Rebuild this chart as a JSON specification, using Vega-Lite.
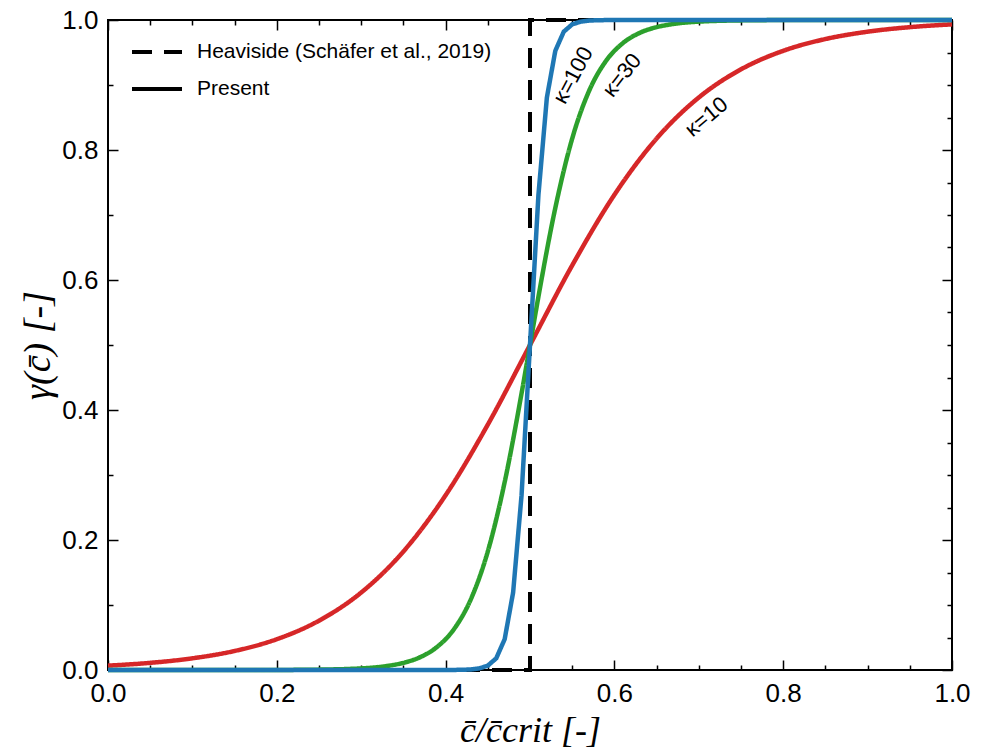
{
  "$schema": "https://vega.github.io/schema/vega-lite/v6.json",
  "width": 844,
  "height": 650,
  "autosize": "none",
  "padding": {"left": 108, "top": 20, "right": 34, "bottom": 82},
  "background": "white",
  "config": {
    "view": {"stroke": "black", "strokeWidth": 2},
    "font": "Liberation Sans"
  },
  "datasets": {
    "heav": [
      {"x": 0, "y": 0, "i": 0, "type": "Heaviside (Schäfer et al., 2019)"},
      {"x": 0.5, "y": 0, "i": 1, "type": "Heaviside (Schäfer et al., 2019)"},
      {"x": 0.5, "y": 1, "i": 2, "type": "Heaviside (Schäfer et al., 2019)"},
      {"x": 1, "y": 1, "i": 3, "type": "Heaviside (Schäfer et al., 2019)"}
    ],
    "smooth": [
      {"x": 0.0, "y": 0.0067, "kappa": "10", "type": "Present"},
      {"x": 0.05, "y": 0.011, "kappa": "10", "type": "Present"},
      {"x": 0.1, "y": 0.018, "kappa": "10", "type": "Present"},
      {"x": 0.15, "y": 0.0293, "kappa": "10", "type": "Present"},
      {"x": 0.2, "y": 0.0474, "kappa": "10", "type": "Present"},
      {"x": 0.25, "y": 0.0759, "kappa": "10", "type": "Present"},
      {"x": 0.3, "y": 0.1192, "kappa": "10", "type": "Present"},
      {"x": 0.35, "y": 0.1824, "kappa": "10", "type": "Present"},
      {"x": 0.4, "y": 0.2689, "kappa": "10", "type": "Present"},
      {"x": 0.45, "y": 0.3775, "kappa": "10", "type": "Present"},
      {"x": 0.5, "y": 0.5, "kappa": "10", "type": "Present"},
      {"x": 0.55, "y": 0.6225, "kappa": "10", "type": "Present"},
      {"x": 0.6, "y": 0.7311, "kappa": "10", "type": "Present"},
      {"x": 0.65, "y": 0.8176, "kappa": "10", "type": "Present"},
      {"x": 0.7, "y": 0.8808, "kappa": "10", "type": "Present"},
      {"x": 0.75, "y": 0.9241, "kappa": "10", "type": "Present"},
      {"x": 0.8, "y": 0.9526, "kappa": "10", "type": "Present"},
      {"x": 0.85, "y": 0.9707, "kappa": "10", "type": "Present"},
      {"x": 0.9, "y": 0.982, "kappa": "10", "type": "Present"},
      {"x": 0.95, "y": 0.989, "kappa": "10", "type": "Present"},
      {"x": 1.0, "y": 0.9933, "kappa": "10", "type": "Present"},
      {"x": 0.0, "y": 0.0, "kappa": "30", "type": "Present"},
      {"x": 0.1, "y": 0.0, "kappa": "30", "type": "Present"},
      {"x": 0.2, "y": 0.0001, "kappa": "30", "type": "Present"},
      {"x": 0.25, "y": 0.0006, "kappa": "30", "type": "Present"},
      {"x": 0.3, "y": 0.0025, "kappa": "30", "type": "Present"},
      {"x": 0.33, "y": 0.0061, "kappa": "30", "type": "Present"},
      {"x": 0.35, "y": 0.011, "kappa": "30", "type": "Present"},
      {"x": 0.37, "y": 0.0198, "kappa": "30", "type": "Present"},
      {"x": 0.39, "y": 0.0356, "kappa": "30", "type": "Present"},
      {"x": 0.41, "y": 0.063, "kappa": "30", "type": "Present"},
      {"x": 0.43, "y": 0.1091, "kappa": "30", "type": "Present"},
      {"x": 0.45, "y": 0.1824, "kappa": "30", "type": "Present"},
      {"x": 0.47, "y": 0.2891, "kappa": "30", "type": "Present"},
      {"x": 0.49, "y": 0.4256, "kappa": "30", "type": "Present"},
      {"x": 0.5, "y": 0.5, "kappa": "30", "type": "Present"},
      {"x": 0.51, "y": 0.5744, "kappa": "30", "type": "Present"},
      {"x": 0.53, "y": 0.7109, "kappa": "30", "type": "Present"},
      {"x": 0.55, "y": 0.8176, "kappa": "30", "type": "Present"},
      {"x": 0.57, "y": 0.8909, "kappa": "30", "type": "Present"},
      {"x": 0.59, "y": 0.937, "kappa": "30", "type": "Present"},
      {"x": 0.61, "y": 0.9644, "kappa": "30", "type": "Present"},
      {"x": 0.63, "y": 0.9802, "kappa": "30", "type": "Present"},
      {"x": 0.65, "y": 0.989, "kappa": "30", "type": "Present"},
      {"x": 0.67, "y": 0.9939, "kappa": "30", "type": "Present"},
      {"x": 0.7, "y": 0.9975, "kappa": "30", "type": "Present"},
      {"x": 0.75, "y": 0.9994, "kappa": "30", "type": "Present"},
      {"x": 0.8, "y": 0.9999, "kappa": "30", "type": "Present"},
      {"x": 0.9, "y": 1.0, "kappa": "30", "type": "Present"},
      {"x": 1.0, "y": 1.0, "kappa": "30", "type": "Present"}
    ],
    "sharp": [
      {"x": 0.0, "y": 0.0, "kappa": "100", "type": "Present"},
      {"x": 0.2, "y": 0.0, "kappa": "100", "type": "Present"},
      {"x": 0.4, "y": 0.0, "kappa": "100", "type": "Present"},
      {"x": 0.42, "y": 0.0003, "kappa": "100", "type": "Present"},
      {"x": 0.43, "y": 0.0009, "kappa": "100", "type": "Present"},
      {"x": 0.44, "y": 0.0025, "kappa": "100", "type": "Present"},
      {"x": 0.45, "y": 0.0067, "kappa": "100", "type": "Present"},
      {"x": 0.46, "y": 0.018, "kappa": "100", "type": "Present"},
      {"x": 0.47, "y": 0.0474, "kappa": "100", "type": "Present"},
      {"x": 0.48, "y": 0.1192, "kappa": "100", "type": "Present"},
      {"x": 0.49, "y": 0.2689, "kappa": "100", "type": "Present"},
      {"x": 0.5, "y": 0.5, "kappa": "100", "type": "Present"},
      {"x": 0.51, "y": 0.7311, "kappa": "100", "type": "Present"},
      {"x": 0.52, "y": 0.8808, "kappa": "100", "type": "Present"},
      {"x": 0.53, "y": 0.9526, "kappa": "100", "type": "Present"},
      {"x": 0.54, "y": 0.982, "kappa": "100", "type": "Present"},
      {"x": 0.55, "y": 0.9933, "kappa": "100", "type": "Present"},
      {"x": 0.56, "y": 0.9975, "kappa": "100", "type": "Present"},
      {"x": 0.57, "y": 0.9991, "kappa": "100", "type": "Present"},
      {"x": 0.58, "y": 0.9997, "kappa": "100", "type": "Present"},
      {"x": 0.6, "y": 1.0, "kappa": "100", "type": "Present"},
      {"x": 0.8, "y": 1.0, "kappa": "100", "type": "Present"},
      {"x": 1.0, "y": 1.0, "kappa": "100", "type": "Present"}
    ],
    "labels": [
      {"x": 0.551, "y": 0.915, "text": "κ=100", "angle": -62},
      {"x": 0.609, "y": 0.915, "text": "κ=30", "angle": -52},
      {"x": 0.709, "y": 0.851, "text": "κ=10", "angle": -40}
    ],
    "dummy": [{"x": 0, "y": 0}]
  },
  "layer": [
    {
      "layer": [
        {
          "data": {"name": "heav"},
          "mark": {"type": "line", "color": "black", "strokeWidth": 4},
          "encoding": {
            "x": {
              "field": "x", "type": "quantitative",
              "scale": {"domain": [0, 1], "nice": false, "zero": false},
              "axis": {
                "orient": "bottom",
                "values": [0, 0.05, 0.1, 0.15, 0.2, 0.25, 0.3, 0.35, 0.4, 0.45, 0.5, 0.55, 0.6, 0.65, 0.7, 0.75, 0.8, 0.85, 0.9, 0.95, 1],
                "labelExpr": "abs(datum.value*5 - round(datum.value*5)) < 0.001 ? format(datum.value, '.1f') : ''",
                "tickSize": {"condition": {"test": "abs(datum.value*5 - round(datum.value*5)) < 0.001", "value": -10}, "value": -5},
                "tickColor": "black", "tickWidth": 1.5,
                "domain": false, "grid": false,
                "labelFontSize": 26, "labelColor": "black", "labelPadding": 20,
                "labelFlush": false, "labelOverlap": false,
                "title": "c̄/c̄crit  [-]",
                "titleFont": "Liberation Serif", "titleFontSize": 36, "titleFontWeight": "normal",
                "titleFontStyle": "italic",
                "titleColor": "black", "titlePadding": 2
              }
            },
            "y": {
              "field": "y", "type": "quantitative",
              "scale": {"domain": [0, 1], "nice": false, "zero": false},
              "axis": {
                "orient": "left",
                "values": [0, 0.05, 0.1, 0.15, 0.2, 0.25, 0.3, 0.35, 0.4, 0.45, 0.5, 0.55, 0.6, 0.65, 0.7, 0.75, 0.8, 0.85, 0.9, 0.95, 1],
                "labelExpr": "abs(datum.value*5 - round(datum.value*5)) < 0.001 ? format(datum.value, '.1f') : ''",
                "tickSize": {"condition": {"test": "abs(datum.value*5 - round(datum.value*5)) < 0.001", "value": -10}, "value": -5},
                "tickColor": "black", "tickWidth": 1.5,
                "domain": false, "grid": false,
                "labelFontSize": 26, "labelColor": "black", "labelPadding": 20,
                "labelFlush": false, "labelOverlap": false,
                "title": "γ(c̄)  [-]",
                "titleFont": "Liberation Serif", "titleFontSize": 38, "titleFontWeight": "normal",
                "titleFontStyle": "italic",
                "titleColor": "black", "titlePadding": 4
              }
            },
            "order": {"field": "i", "type": "quantitative"},
            "strokeDash": {
              "field": "type", "type": "nominal",
              "scale": {"domain": ["Heaviside (Schäfer et al., 2019)", "Present"], "range": [[20, 12], [1, 0]]},
              "legend": {
                "title": null, "orient": "none", "legendX": 22, "legendY": 5,
                "symbolType": "stroke", "symbolSize": 2500, "symbolStrokeWidth": 4,
                "symbolStrokeColor": "black", "labelFontSize": 21, "labelColor": "black",
                "labelFont": "Liberation Sans", "labelOffset": 13, "rowPadding": -9,
                "labelLimit": 0, "symbolDash": [20, 12]
              }
            }
          }
        },
        {
          "data": {"name": "smooth"},
          "mark": {"type": "line", "strokeWidth": 4.5, "interpolate": "monotone"},
          "encoding": {
            "x": {"field": "x", "type": "quantitative"},
            "y": {"field": "y", "type": "quantitative"},
            "color": {
              "field": "kappa", "type": "nominal",
              "scale": {"domain": ["100", "30", "10"], "range": ["#1f77b4", "#2ca02c", "#d62728"]},
              "legend": null
            },
            "strokeDash": {"field": "type", "type": "nominal"}
          }
        },
        {
          "data": {"name": "sharp"},
          "mark": {"type": "line", "strokeWidth": 4.5},
          "encoding": {
            "x": {"field": "x", "type": "quantitative"},
            "y": {"field": "y", "type": "quantitative"},
            "color": {"field": "kappa", "type": "nominal", "legend": null},
            "strokeDash": {"field": "type", "type": "nominal"}
          }
        },
        {
          "data": {"name": "labels"},
          "mark": {"type": "text", "fontSize": 22, "font": "Liberation Sans", "color": "black", "align": "center", "baseline": "middle"},
          "encoding": {
            "x": {"field": "x", "type": "quantitative"},
            "y": {"field": "y", "type": "quantitative"},
            "text": {"field": "text"},
            "angle": {"field": "angle", "type": "quantitative", "scale": null}
          }
        }
      ]
    },
    {
      "data": {"name": "dummy"},
      "mark": {"type": "point", "opacity": 0},
      "encoding": {
        "x": {
          "field": "x", "type": "quantitative",
          "scale": {"domain": [0, 1], "nice": false, "zero": false},
          "axis": {
            "orient": "top",
            "values": [0, 0.05, 0.1, 0.15, 0.2, 0.25, 0.3, 0.35, 0.4, 0.45, 0.5, 0.55, 0.6, 0.65, 0.7, 0.75, 0.8, 0.85, 0.9, 0.95, 1],
            "labels": false, "domain": false, "grid": false, "title": null,
            "tickSize": {"condition": {"test": "abs(datum.value*5 - round(datum.value*5)) < 0.001", "value": -10}, "value": -5},
            "tickColor": "black", "tickWidth": 1.5
          }
        },
        "y": {
          "field": "y", "type": "quantitative",
          "scale": {"domain": [0, 1], "nice": false, "zero": false},
          "axis": {
            "orient": "right",
            "values": [0, 0.05, 0.1, 0.15, 0.2, 0.25, 0.3, 0.35, 0.4, 0.45, 0.5, 0.55, 0.6, 0.65, 0.7, 0.75, 0.8, 0.85, 0.9, 0.95, 1],
            "labels": false, "domain": false, "grid": false, "title": null,
            "tickSize": {"condition": {"test": "abs(datum.value*5 - round(datum.value*5)) < 0.001", "value": -10}, "value": -5},
            "tickColor": "black", "tickWidth": 1.5
          }
        }
      }
    }
  ],
  "resolve": {
    "scale": {"x": "independent", "y": "independent"},
    "axis": {"x": "independent", "y": "independent"}
  }
}
